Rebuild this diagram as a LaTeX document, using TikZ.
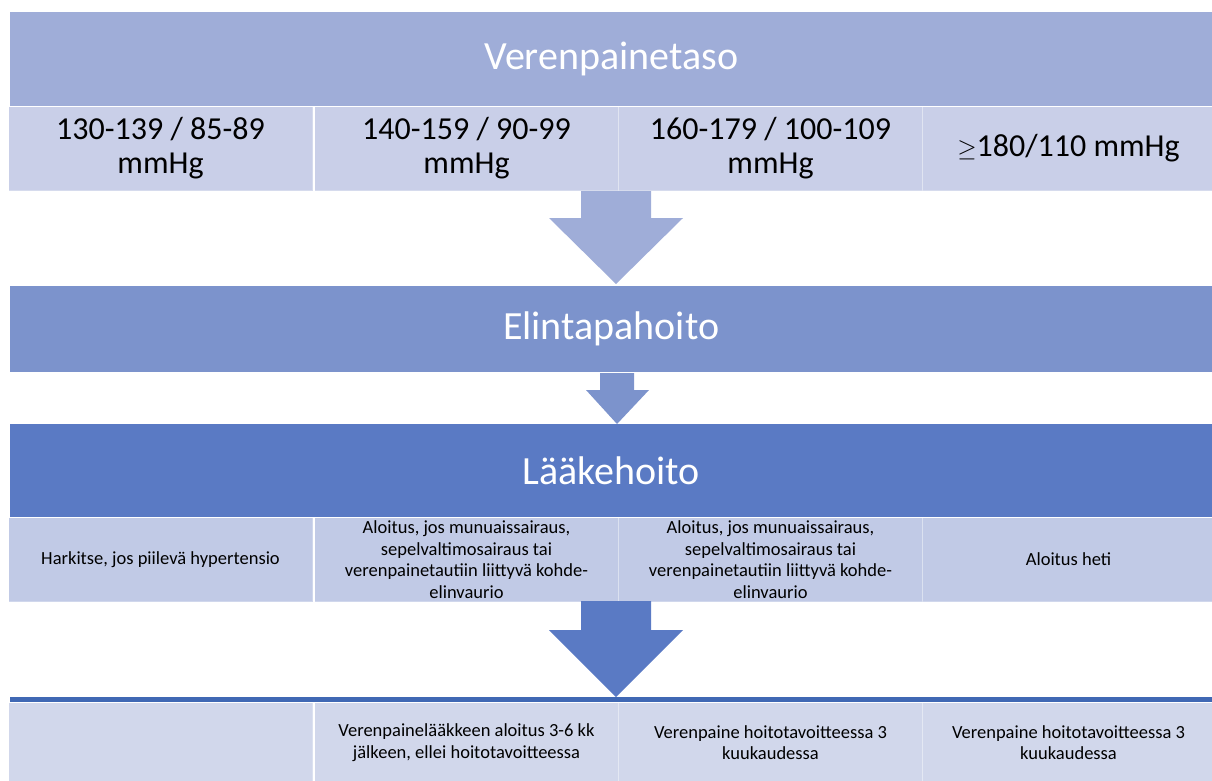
\documentclass[tikz,border=0pt]{standalone}
\usepackage{fontspec}
\setmainfont{Carlito}
\usetikzlibrary{calc}
\definecolor{tasoC}{HTML}{9FADD8}
\definecolor{rowA}{HTML}{C9CFE8}
\definecolor{elinC}{HTML}{7C93CC}
\definecolor{laakeC}{HTML}{5A7AC4}
\definecolor{rowC}{HTML}{C1CAE6}
\definecolor{lineC}{HTML}{4068B4}
\definecolor{rowD}{HTML}{D1D7EB}
\tikzset{
  band/.style={anchor=north west, inner sep=0pt, text=white, minimum width=1202pt},
  cellbox/.style={anchor=north west, inner sep=0pt, minimum width=304pt, draw=white, draw opacity=0.25, line width=1pt, align=center, text=black},
  bigtxt/.style={font=\fontsize{32}{34}\selectfont},
  smalltxt/.style={font=\fontsize{18.5}{21.5}\selectfont},
  titletxt/.style={font=\fontsize{40}{46}\selectfont}
}
\begin{document}
\begin{tikzpicture}[x=1pt,y=1pt]
\useasboundingbox (0,0) rectangle (1212,-780);
% top band
\node[band, titletxt, fill=tasoC, minimum height=94pt] (taso) at (10,-12) {Verenpainetaso};
% row 1
\node[cellbox, bigtxt, fill=rowA, minimum height=84pt] (a1) at (8,-106) {130-139 / 85-89\\mmHg};
\node[cellbox, bigtxt, fill=rowA, minimum height=84pt] (a2) at (314,-106) {140-159 / 90-99\\mmHg};
\node[cellbox, bigtxt, fill=rowA, minimum height=84pt] (a3) at (618,-106) {160-179 / 100-109\\mmHg};
\node[cellbox, bigtxt, fill=rowA, minimum height=84pt, minimum width=292pt] (a4) at (922,-106) {$\geq$180/110 mmHg};
% elintapahoito
\node[band, titletxt, fill=elinC, minimum height=86pt] (elin) at (10,-286) {Elintapahoito};
% laakehoito
\node[band, titletxt, fill=laakeC, minimum height=93pt] (laake) at (10,-424) {Lääkehoito};
% row 3
\node[cellbox, smalltxt, fill=rowC, minimum height=84pt] (c1) at (8,-517) {Harkitse, jos piilevä hypertensio};
\node[cellbox, smalltxt, fill=rowC, minimum height=84pt] (c2) at (314,-517) {Aloitus, jos munuaissairaus,\\sepelvaltimosairaus tai\\verenpainetautiin liittyvä kohde-\\elinvaurio};
\node[cellbox, smalltxt, fill=rowC, minimum height=84pt] (c3) at (618,-517) {Aloitus, jos munuaissairaus,\\sepelvaltimosairaus tai\\verenpainetautiin liittyvä kohde-\\elinvaurio};
\node[cellbox, smalltxt, fill=rowC, minimum height=84pt, minimum width=292pt] (c4) at (922,-517) {Aloitus heti};
% dark line
\node[band, fill=lineC, minimum height=5pt] (dline) at (10,-697) {};
% row 4
\node[cellbox, smalltxt, fill=rowD, minimum height=80pt] (d1) at (8,-702) {};
\node[cellbox, smalltxt, fill=rowD, minimum height=80pt] (d2) at (314,-702) {Verenpainelääkkeen aloitus 3-6 kk\\jälkeen, ellei hoitotavoitteessa};
\node[cellbox, smalltxt, fill=rowD, minimum height=80pt] (d3) at (618,-702) {Verenpaine hoitotavoitteessa 3\\kuukaudessa};
\node[cellbox, smalltxt, fill=rowD, minimum height=80pt, minimum width=292pt] (d4) at (922,-702) {Verenpaine hoitotavoitteessa 3\\kuukaudessa};
% block arrows
\fill[tasoC] (581,-191) -- (651,-191) -- (651,-218) -- (683,-218) -- (616,-284) -- (549,-218) -- (581,-218) -- cycle;
\fill[elinC] (600,-373) -- (634,-373) -- (634,-390) -- (649,-390) -- (617,-424) -- (586,-390) -- (600,-390) -- cycle;
\fill[laakeC] (581,-601) -- (651,-601) -- (651,-630) -- (683,-630) -- (616,-697) -- (549,-630) -- (581,-630) -- cycle;
\end{tikzpicture}
\end{document}
